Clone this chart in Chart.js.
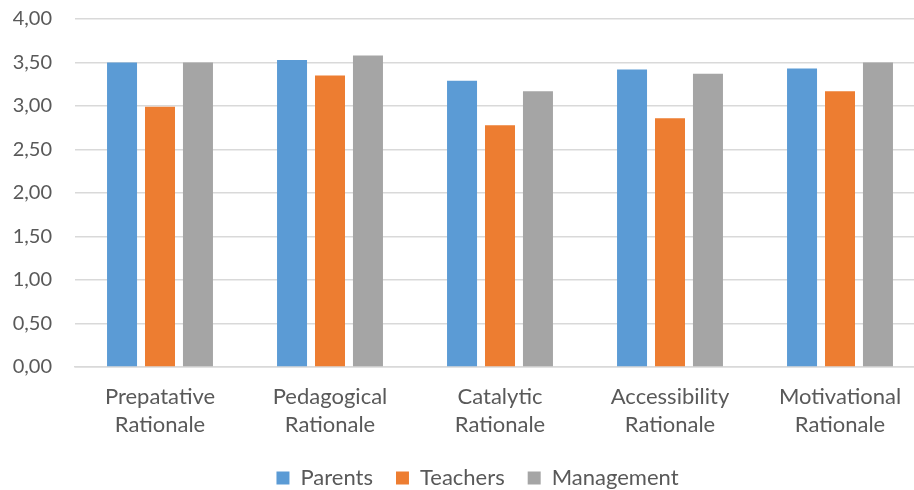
<!DOCTYPE html>
<html>
<head>
<meta charset="utf-8">
<script src="https://cdn.jsdelivr.net/npm/chart.js@4"></script>
<style>
html,body{margin:0;padding:0;background:#fff;overflow:hidden;}
#wrap{width:914px;height:490px;overflow:hidden;}
</style>
</head>
<body>
<div id="wrap"><canvas id="c" width="954" height="499"></canvas></div>
<script>
const categories = [["Prepatative","Rationale"],["Pedagogical","Rationale"],["Catalytic","Rationale"],["Accessibility","Rationale"],["Motivational","Rationale"]];
const parents = [3.50, 3.53, 3.29, 3.42, 3.43];
const teachers = [2.99, 3.35, 2.78, 2.86, 3.17];
const management = [3.50, 3.58, 3.17, 3.37, 3.50];
const yTicks = [0,0.5,1,1.5,2,2.5,3,3.5,4];

const FONT = "Lato, 'Open Sans', sans-serif";
const TXT = '#595959';

const legendShift = {
  id: 'legendShift',
  afterUpdate(chart) {
    const lg = chart.legend;
    if (lg && !lg._shifted) {
      const orig = lg.draw;
      lg.draw = function() {
        const ctx = this.ctx;
        ctx.save();
        ctx.translate(15, 0);
        orig.apply(this, arguments);
        ctx.restore();
      };
      lg._shifted = true;
    }
  }
};

new Chart(document.getElementById('c'), {
  type: 'bar',
  data: {
    labels: categories,
    datasets: [
      {label:'Parents', data: parents, backgroundColor:'#5B9BD5'},
      {label:'Teachers', data: teachers, backgroundColor:'#ED7D31'},
      {label:'Management', data: management, backgroundColor:'#A5A5A5'}
    ]
  },
  plugins: [legendShift],
  options: {
    responsive: false,
    animation: false,
    datasets: { bar: { categoryPercentage: 0.67, barPercentage: 0.79 } },
    layout: { padding: { left: 0, right: 29, top: 19, bottom: 0 } },
    plugins: {
      tooltip: { enabled: false },
      legend: {
        position: 'bottom',
        labels: {
          boxWidth: 13, boxHeight: 13, padding: 23,
          color: TXT,
          font: { family: FONT, size: 22 }
        }
      }
    },
    scales: {
      x: {
        afterFit: (s) => { s.height = 77; },
        grid: { display: false, drawTicks: false },
        border: { display: true, color: '#d9d9d9', width: 1.5 },
        ticks: { color: TXT, font: { family: FONT, size: 22, lineHeight: 1.27 }, padding: 16, maxRotation: 0, autoSkip: false }
      },
      y: {
        min: 0, max: 4,
        afterBuildTicks: (s) => { s.ticks = yTicks.map(v => ({value: v})); },
        afterFit: (s) => { s.width = 75; },
        grid: { color: '#d9d9d9', lineWidth: 1.5, drawTicks: true, tickLength: 23, tickColor: 'rgba(0,0,0,0)' },
        border: { display: false },
        ticks: {
          color: TXT, padding: 0,
          font: { family: FONT, size: 20 },
          callback: (v) => Number(v).toFixed(2).replace('.', ',')
        }
      }
    }
  }
});
</script>
</body>
</html>
